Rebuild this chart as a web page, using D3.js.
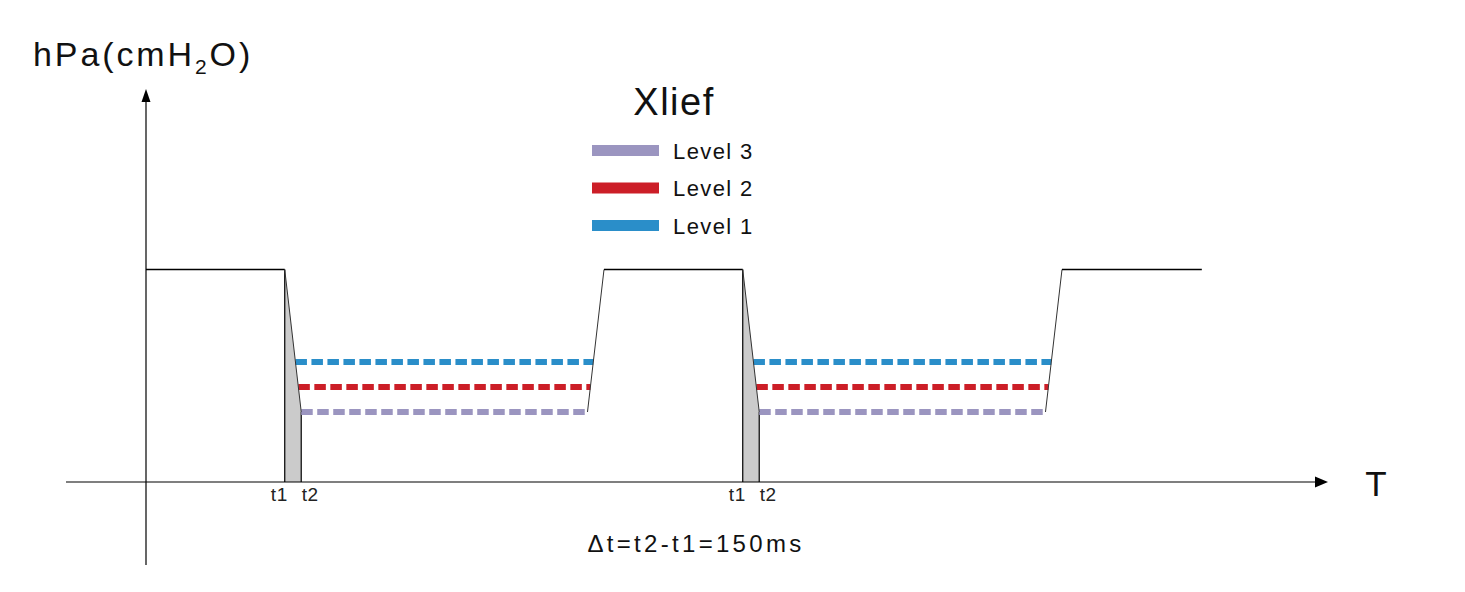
<!DOCTYPE html>
<html>
<head>
<meta charset="utf-8">
<script src="https://cdn.jsdelivr.net/npm/d3@7"></script>
<style>
  body { margin: 0; background: #fff; }
  svg { display: block; }
</style>
</head>
<body>
<div id="chart"></div>
<script>
// pressure waveform breakpoints (time in ms, pressure in hPa)
const waveTime = [0, 1260, 1410, 4010, 4160, 5420, 5570, 8170, 8320, 9590];
const wavePressure = [17, 17, 5.6, 5.6, 17, 17, 5.6, 5.6, 17, 17];

// relief levels
const levelNames = ["Level 1", "Level 2", "Level 3"];
const levelValues = [9.6, 7.6, 5.6];
const levelColors = ["#2a8ec9", "#cc1e27", "#9b95c0"];
const legendOrder = ["Level 3", "Level 2", "Level 1"];

const markLabels = ["t1", "t2"];
const title = "Xlief";
const note = "Δt=t2-t1=150ms";

const width = 1465, height = 592;

const svg = d3.select("#chart").append("svg")
    .attr("width", width)
    .attr("height", height)
    .style("font-family", "'Liberation Sans', Arial, sans-serif");

const x = d3.scaleLinear().domain([0, 4160]).range([146, 604]);
const y = d3.scaleLinear().domain([0, 17]).range([482, 269.5]);

const low = d3.min(wavePressure);

// fall segments -> grey shaded area + t1/t2 verticals
const falls = [], rises = [];
for (let i = 0; i < waveTime.length - 1; i++) {
    if (wavePressure[i] > wavePressure[i + 1]) falls.push(i);
    if (wavePressure[i] < wavePressure[i + 1]) rises.push(i);
}

falls.forEach(i => {
    const t0 = waveTime[i], t1 = waveTime[i + 1];
    svg.append("path")
        .attr("d", d3.line()([
            [x(t0), y(wavePressure[i])], [x(t1), y(wavePressure[i + 1])],
            [x(t1), y(0)], [x(t0), y(0)]
        ]))
        .attr("fill", "#cbcbcb");
    [t0, t1].forEach(t => {
        svg.append("line")
            .attr("x1", x(t)).attr("x2", x(t))
            .attr("y1", y(0))
            .attr("y2", y(t === t0 ? wavePressure[i] : wavePressure[i + 1]))
            .attr("stroke", "#111").attr("stroke-width", 1.3);
    });
    svg.append("text")
        .attr("x", x(t0) + 3).attr("y", 501)
        .attr("text-anchor", "end")
        .attr("font-size", 19).attr("letter-spacing", 0.5).attr("fill", "#222")
        .text(markLabels[0]);
    svg.append("text")
        .attr("x", x(t1) + 0.5).attr("y", 501)
        .attr("font-size", 19).attr("letter-spacing", 0.5).attr("fill", "#222")
        .text(markLabels[1]);
});

// dashed relief level lines
function cross(i, v) {
    const p0 = wavePressure[i], p1 = wavePressure[i + 1];
    return waveTime[i] + (v - p0) / (p1 - p0) * (waveTime[i + 1] - waveTime[i]);
}
levelValues.forEach((v, k) => {
    falls.forEach((fi, c) => {
        const ri = rises[c];
        svg.append("line")
            .attr("x1", x(cross(fi, v))).attr("x2", x(cross(ri, v)))
            .attr("y1", y(v)).attr("y2", y(v))
            .attr("stroke", levelColors[k])
            .attr("stroke-width", 6)
            .attr("stroke-dasharray", "11.5,4.5");
    });
});

// waveform lines
for (let i = 0; i < waveTime.length - 1; i++) {
    const p0 = wavePressure[i], p1 = wavePressure[i + 1];
    if (p0 === low && p1 === low) continue;
    const flat = p0 === p1;
    svg.append("line")
        .attr("x1", x(waveTime[i])).attr("y1", y(p0))
        .attr("x2", x(waveTime[i + 1])).attr("y2", y(p1))
        .attr("stroke", flat ? "#000" : "#333")
        .attr("stroke-width", flat ? 1.5 : 1);
}

// axes with arrows
svg.append("line")
    .attr("x1", 66).attr("x2", 1316).attr("y1", y(0)).attr("y2", y(0))
    .attr("stroke", "#000").attr("stroke-width", 1.2);
svg.append("path")
    .attr("d", `M1328,${y(0)} L1315,${y(0) - 5.5} L1315,${y(0) + 5.5}Z`)
    .attr("fill", "#000");
svg.append("line")
    .attr("x1", x(0)).attr("x2", x(0)).attr("y1", 565).attr("y2", 100)
    .attr("stroke", "#000").attr("stroke-width", 1.2);
svg.append("path")
    .attr("d", `M${x(0)},89 L${x(0) - 4.5},102 L${x(0) + 4.5},102Z`)
    .attr("fill", "#000");

// axis titles
const yTitle = svg.append("text")
    .attr("x", 33).attr("y", 66)
    .attr("font-size", 34).attr("letter-spacing", 2.9).attr("fill", "#111");
yTitle.append("tspan").text("hPa(cmH");
yTitle.append("tspan").attr("font-size", 21).attr("dy", 8).text("2");
yTitle.append("tspan").attr("dy", -8).text("O)");

svg.append("text")
    .attr("x", 1376).attr("y", 496)
    .attr("text-anchor", "middle")
    .attr("font-size", 35).attr("fill", "#111")
    .text("T");

// legend
svg.append("text")
    .attr("x", 674).attr("y", 115)
    .attr("text-anchor", "middle")
    .attr("font-size", 38).attr("letter-spacing", 1.5).attr("fill", "#111")
    .text(title);

const legendY = d3.scalePoint().domain(legendOrder).range([150.5, 225.5]);
const legend = svg.append("g").selectAll("g")
    .data(legendOrder)
    .join("g")
    .attr("transform", d => `translate(592,${legendY(d)})`);
legend.append("rect")
    .attr("x", 0).attr("y", -5.5)
    .attr("width", 67).attr("height", 11)
    .attr("fill", d => levelColors[levelNames.indexOf(d)]);
legend.append("text")
    .attr("x", 81).attr("y", 8)
    .attr("font-size", 22).attr("letter-spacing", 1.4).attr("fill", "#111")
    .text(d => d);

// note
svg.append("text")
    .attr("x", 696).attr("y", 552)
    .attr("text-anchor", "middle")
    .attr("font-size", 24).attr("letter-spacing", 3.3).attr("fill", "#111")
    .text(note);
</script>
</body>
</html>
